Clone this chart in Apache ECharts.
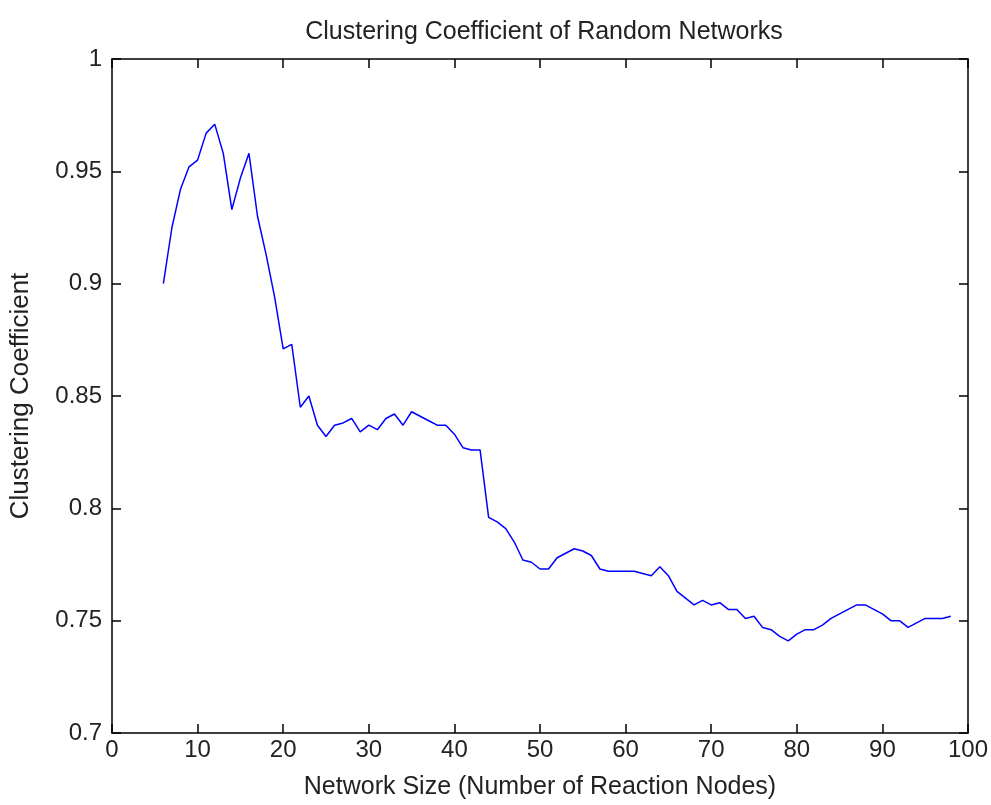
<!DOCTYPE html>
<html>
<head>
<meta charset="utf-8">
<script src="https://cdn.jsdelivr.net/npm/echarts@6/dist/echarts.min.js"></script>
<style>
  html, body { margin: 0; padding: 0; background: #fff; }
  #chart { width: 991px; height: 805px; }
</style>
</head>
<body>
<div id="chart"></div>
<script>
// Network sizes (number of reaction nodes)
const networkSizes = [];
for (let n = 6; n <= 98; n++) networkSizes.push(n);

// Mean clustering coefficient for each network size
const clusteringCoeff = [
  0.900, 0.925, 0.942, 0.952, 0.955, 0.967, 0.971, 0.958, 0.933, 0.947,
  0.958, 0.930, 0.913, 0.894, 0.871, 0.873, 0.845, 0.850, 0.837, 0.832,
  0.837, 0.838, 0.840, 0.834, 0.837, 0.835, 0.840, 0.842, 0.837, 0.843,
  0.841, 0.839, 0.837, 0.837, 0.833, 0.827, 0.826, 0.826, 0.796, 0.794,
  0.791, 0.785, 0.777, 0.776, 0.773, 0.773, 0.778, 0.780, 0.782, 0.781,
  0.779, 0.773, 0.772, 0.772, 0.772, 0.772, 0.771, 0.770, 0.774, 0.770,
  0.763, 0.760, 0.757, 0.759, 0.757, 0.758, 0.755, 0.755, 0.751, 0.752,
  0.747, 0.746, 0.743, 0.741, 0.744, 0.746, 0.746, 0.748, 0.751, 0.753,
  0.755, 0.757, 0.757, 0.755, 0.753, 0.750, 0.750, 0.747, 0.749, 0.751,
  0.751, 0.751, 0.752
];

const xTicks = [0, 10, 20, 30, 40, 50, 60, 70, 80, 90, 100];
const yTicks = [0.7, 0.75, 0.8, 0.85, 0.9, 0.95, 1];

const FONT = 'Liberation Sans';
const TEXT = '#222';
const points = networkSizes.map((n, i) => [n, clusteringCoeff[i]]);

// Shared box-frame styling: black lines with inward ticks on all four sides
const frameAxis = {
  axisLine: { show: true, onZero: false, lineStyle: { color: '#000', width: 1.5 } },
  axisTick: { show: true, inside: true, length: 9, lineStyle: { color: '#000', width: 1.5 } },
  splitLine: { show: false }
};

const chart = echarts.init(document.getElementById('chart'), null, { renderer: 'canvas' });
chart.setOption({
  backgroundColor: '#fff',
  animation: false,
  title: {
    text: 'Clustering Coefficient of Random Networks',
    left: 539,
    textAlign: 'center',
    top: 15,
    textStyle: { fontFamily: FONT, fontSize: 25, fontWeight: 'normal', color: TEXT }
  },
  grid: { left: 110, right: 22, top: 59, bottom: 68 },
  xAxis: [
    Object.assign({
      type: 'value', min: xTicks[0], max: xTicks[xTicks.length - 1], interval: 10,
      position: 'bottom',
      name: 'Network Size (Number of Reaction Nodes)',
      nameLocation: 'middle', nameGap: 42,
      nameTextStyle: { fontFamily: FONT, fontSize: 25, color: TEXT },
      axisLabel: { fontFamily: FONT, fontSize: 24, color: TEXT, margin: 5 }
    }, frameAxis),
    Object.assign({
      type: 'value', min: 0, max: 100, interval: 10, position: 'top',
      axisLabel: { show: false }
    }, frameAxis)
  ],
  yAxis: [
    Object.assign({
      type: 'value', min: yTicks[0], max: yTicks[yTicks.length - 1], interval: 0.05,
      position: 'left',
      name: 'Clustering Coefficient',
      nameLocation: 'middle', nameGap: 78,
      nameTextStyle: { fontFamily: FONT, fontSize: 26, color: TEXT },
      axisLabel: {
        fontFamily: FONT, fontSize: 24, color: TEXT, margin: 10,
        formatter: v => String(parseFloat(v.toFixed(2)))
      }
    }, frameAxis),
    Object.assign({
      type: 'value', min: 0.7, max: 1, interval: 0.05, position: 'right',
      axisLabel: { show: false }
    }, frameAxis)
  ],
  series: [{
    type: 'line',
    data: points,
    showSymbol: false,
    lineStyle: { color: '#0000ff', width: 1.5 },
    xAxisIndex: 0,
    yAxisIndex: 0
  }]
});
</script>
</body>
</html>
